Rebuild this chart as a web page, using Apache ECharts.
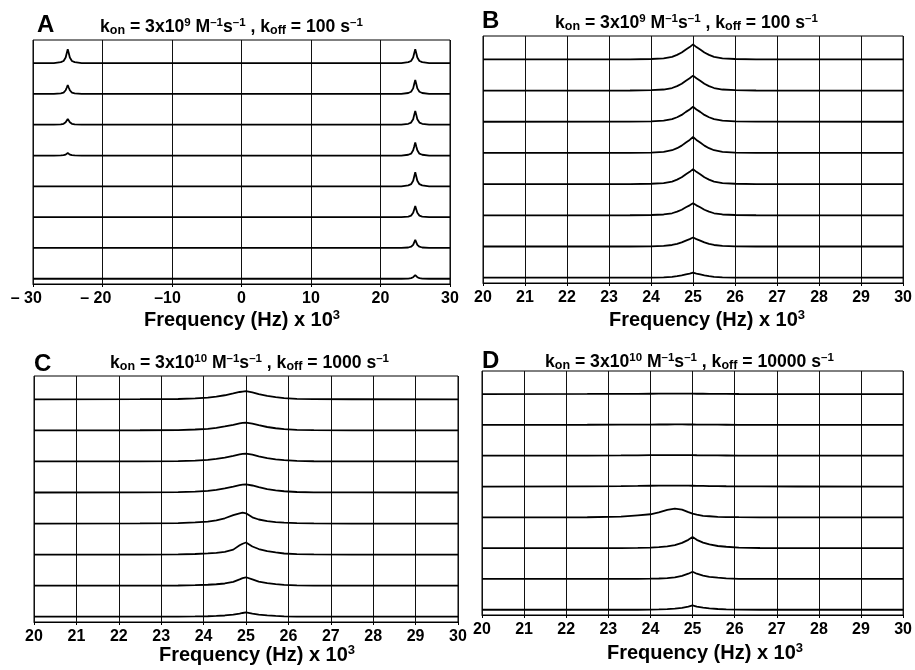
<!DOCTYPE html>
<html>
<head>
<meta charset="utf-8">
<script src="https://cdn.jsdelivr.net/npm/echarts@6/dist/echarts.min.js"></script>
<style>html,body{margin:0;padding:0;background:#fff}#c{width:915px;height:670px}</style>
</head>
<body>
<div id="c"></div>
<script>
// ---------------- DATA ----------------
// trace baselines (stack offsets), top trace first
var offsets = [7.17, 6.17, 5.17, 4.17, 3.17, 2.17, 1.17, 0.17];

// Panel A : frequency samples (kHz) and intensities of the 8 stacked traces
var xA = [-30, -27, -26, -25.6, -25.3, -25.15, -25, -24.85, -24.7, -24.4, -24, -23, 23, 24, 24.4, 24.7, 24.85, 25, 25.15, 25.3, 25.6, 26, 27, 30];
var a0 = [0, 0, .03, .07, .18, .32, .45, .32, .18, .07, .03, 0, 0, .03, .07, .18, .32, .45, .32, .18, .07, .03, 0, 0];
var a1 = [0, 0, .02, .04, .12, .2, .29, .2, .12, .04, .02, 0, 0, .03, .07, .18, .32, .45, .32, .18, .07, .03, 0, 0];
var a2 = [0, 0, .01, .03, .08, .13, .19, .13, .08, .03, .01, 0, 0, .03, .07, .18, .32, .45, .32, .18, .07, .03, 0, 0];
var a3 = [0, 0, .005, .01, .03, .06, .08, .06, .03, .01, .005, 0, 0, .025, .06, .17, .29, .42, .29, .17, .06, .025, 0, 0];
var a4 = [0, 0, 0, 0, 0, 0, 0, 0, 0, 0, 0, 0, 0, .03, .07, .18, .32, .46, .32, .18, .07, .03, 0, 0];
var a5 = [0, 0, 0, 0, 0, 0, 0, 0, 0, 0, 0, 0, 0, .02, .05, .14, .25, .36, .25, .14, .05, .02, 0, 0];
var a6 = [0, 0, 0, 0, 0, 0, 0, 0, 0, 0, 0, 0, 0, .015, .04, .1, .18, .26, .18, .1, .04, .015, 0, 0];
var a7 = [0, 0, 0, 0, 0, 0, 0, 0, 0, 0, 0, 0, 0, .007, .02, .05, .08, .12, .08, .05, .02, .007, 0, 0];

// Panel B
var xB = [20, 23.5, 24, 24.3, 24.5, 24.62, 24.73, 24.83, 24.92, 25, 25.08, 25.17, 25.27, 25.38, 25.5, 25.7, 26, 26.5, 30];
var b0 = [0, .002, .012, .034, .082, .144, .22, .317, .394, .48, .394, .317, .22, .144, .082, .034, .012, .002, 0];
var b1 = [0, .002, .012, .034, .082, .144, .22, .317, .394, .48, .394, .317, .22, .144, .082, .034, .012, .002, 0];
var b2 = [0, .002, .012, .034, .082, .144, .22, .317, .394, .48, .394, .317, .22, .144, .082, .034, .012, .002, 0];
var b3 = [0, .002, .013, .036, .087, .153, .235, .337, .418, .51, .418, .337, .235, .153, .087, .036, .013, .002, 0];
var b4 = [0, .002, .012, .034, .082, .144, .22, .317, .394, .48, .394, .317, .22, .144, .082, .034, .012, .002, 0];
var b5 = [0, .002, .01, .027, .066, .117, .18, .257, .32, .39, .32, .257, .18, .117, .066, .027, .01, .002, 0];
var b6 = [0, .001, .007, .02, .049, .087, .133, .191, .238, .29, .238, .191, .133, .087, .049, .02, .007, .001, 0];
var b7 = [0, .001, .004, .011, .027, .048, .074, .106, .131, .16, .131, .106, .074, .048, .027, .011, .004, .001, 0];

// Panel C
var xC = [20, 22.5, 23.4, 23.8, 24.1, 24.3, 24.5, 24.7, 24.85, 24.92, 25, 25.15, 25.3, 25.5, 25.7, 25.9, 26.2, 26.6, 27.5, 30];
var c0 = [0, .003, .01, .028, .052, .083, .13, .187, .235, .25, .26, .225, .17, .11, .07, .04, .015, .005, .002, 0];
var c1 = [0, .003, .01, .027, .05, .08, .125, .18, .228, .243, .252, .22, .165, .108, .068, .04, .015, .005, .002, 0];
var c2 = [0, .003, .01, .027, .05, .08, .125, .18, .228, .243, .252, .22, .165, .108, .068, .04, .015, .005, .002, 0];
var c3 = [0, .003, .01, .028, .052, .083, .13, .187, .235, .25, .26, .225, .17, .11, .07, .04, .015, .005, .002, 0];
var c4 = [0, .003, .015, .035, .06, .1, .17, .27, .33, .35, .33, .2, .13, .075, .045, .03, .012, .004, 0, 0];
var c5 = [0, 0, .008, .02, .04, .055, .09, .16, .3, .35, .39, .26, .18, .11, .07, .035, .015, .005, 0, 0];
var c6 = [0, 0, .005, .015, .03, .045, .07, .12, .2, .24, .27, .2, .13, .08, .05, .025, .01, .003, 0, 0];
var c7 = [0, 0, 0, .008, .015, .025, .04, .065, .1, .12, .14, .1, .07, .045, .025, .012, .005, 0, 0, 0];

// Panel D
var xD = [20, 22.5, 23.3, 23.7, 24.0, 24.2, 24.4, 24.58, 24.75, 24.9, 25, 25.1, 25.25, 25.4, 25.6, 25.8, 26.1, 26.6, 27.5, 30];
var d0 = [0, .005, .008, .01, .012, .013, .014, .015, .015, .014, .013, .012, .011, .01, .008, .006, .004, .002, 0, 0];
var d1 = [0, .005, .008, .01, .012, .013, .014, .015, .015, .014, .013, .012, .011, .01, .008, .006, .004, .002, 0, 0];
var d2 = [0, .006, .01, .014, .017, .019, .02, .02, .02, .019, .018, .016, .014, .012, .01, .008, .005, .003, .001, 0];
var d3 = [0, .008, .014, .02, .025, .028, .03, .03, .029, .027, .025, .022, .019, .016, .012, .009, .006, .003, .001, 0];
var d4 = [0, .003, .02, .065, .1, .16, .24, .28, .25, .17, .12, .09, .05, .035, .015, .008, .004, 0, 0, 0];
var d5 = [0, 0, .003, .01, .02, .035, .06, .1, .17, .27, .36, .27, .18, .12, .07, .045, .015, .004, 0, 0];
var d6 = [0, 0, 0, .003, .008, .015, .03, .05, .1, .17, .235, .17, .11, .07, .04, .02, .005, 0, 0, 0];
var d7 = [0, 0, 0, 0, .005, .01, .02, .035, .06, .1, .14, .1, .07, .045, .025, .012, .004, 0, 0, 0];

// tick labels
var ticksA = ['– 30', '– 20', '–10', '0', '10', '20', '30'];
var ticksB = ['20', '21', '22', '23', '24', '25', '26', '27', '28', '29', '30'];

// panel texts
var letters = ['A', 'B', 'C', 'D'];
var titles = [
  '{m|k}{sub|on}{m| = 3x10}{sup|9}{m| M}{sup|–1}{m|s}{sup|–1}{m| , k}{sub|off}{m| = 100 s}{sup|–1}',
  '{m|k}{sub|on}{m| = 3x10}{sup|9}{m| M}{sup|–1}{m|s}{sup|–1}{m| , k}{sub|off}{m| = 100 s}{sup|–1}',
  '{m|k}{sub|on}{m| = 3x10}{sup|10}{m| M}{sup|–1}{m|s}{sup|–1}{m| , k}{sub|off}{m| = 1000 s}{sup|–1}',
  '{m|k}{sub|on}{m| = 3x10}{sup|10}{m| M}{sup|–1}{m|s}{sup|–1}{m| , k}{sub|off}{m| = 10000 s}{sup|–1}'
];
var axisName = '{m|Frequency (Hz) x 10}{sup|3}';

// ---------------- CHART ----------------
var FONT = '"Liberation Sans", Arial, sans-serif';
var panels = [
  {x: xA, t: [a0, a1, a2, a3, a4, a5, a6, a7], min: -30, max: 30, interval: 10, ticks: ticksA,
   grid: {left: 33, width: 417, top: 40, height: 244}},
  {x: xB, t: [b0, b1, b2, b3, b4, b5, b6, b7], min: 20, max: 30, interval: 1, ticks: ticksB,
   grid: {left: 483, width: 425, top: 36, height: 247}},
  {x: xC, t: [c0, c1, c2, c3, c4, c5, c6, c7], min: 20, max: 30, interval: 1, ticks: ticksB,
   grid: {left: 34, width: 424, top: 376, height: 246}},
  {x: xD, t: [d0, d1, d2, d3, d4, d5, d6, d7], min: 20, max: 30, interval: 1, ticks: ticksB,
   grid: {left: 482, width: 422, top: 371, height: 244}}
];
var letterPos = [[37, 13], [482, 9], [34, 352], [482, 349]];
var titlePos = [[100, 17], [555, 13], [110, 353], [545, 352]];
var namePos = [[242, 309], [707, 309], [257, 644], [705, 642]];

var grids = [], xAxes = [], yAxes = [], series = [], titleArr = [];
var richT = {
  m: {fontSize: 17.6, fontWeight: 'bold', fontFamily: FONT, color: '#000', lineHeight: 20},
  sup: {fontSize: 11.5, fontWeight: 'bold', fontFamily: FONT, color: '#000', lineHeight: 11, verticalAlign: 'top'},
  sub: {fontSize: 12.5, fontWeight: 'bold', fontFamily: FONT, color: '#000', lineHeight: 12, verticalAlign: 'bottom'}
};
var richN = {
  m: {fontSize: 20, fontWeight: 'bold', fontFamily: FONT, color: '#000', lineHeight: 23},
  sup: {fontSize: 13, fontWeight: 'bold', fontFamily: FONT, color: '#000', lineHeight: 13, verticalAlign: 'top'}
};

panels.forEach(function (p, pi) {
  grids.push(Object.assign({show: true, borderColor: '#000', borderWidth: 1, backgroundColor: '#fff'}, p.grid));
  xAxes.push({
    type: 'value', gridIndex: pi, min: p.min, max: p.max, interval: p.interval,
    axisLine: {show: true, onZero: false, lineStyle: {color: '#000', width: 1}},
    axisTick: {show: true, length: 3, lineStyle: {color: '#000'}},
    splitLine: {show: true, lineStyle: {color: '#111', width: 1}},
    axisLabel: {
      margin: 7, color: '#000', fontSize: 16, fontWeight: 'bold', fontFamily: FONT,
      formatter: function (v) {
        var s = p.ticks[Math.round((v - p.min) / p.interval)];
        if (s && s.charAt(0) === '–') s = s + (s.indexOf(' ') > 0 ? '\u00a0\u00a0\u00a0' : '\u00a0\u00a0');
        return s;
      }
    }
  });
  yAxes.push({type: 'value', gridIndex: pi, min: 0, max: 7.92, show: false});
  p.t.forEach(function (vals, k) {
    series.push({
      type: 'line', xAxisIndex: pi, yAxisIndex: pi, symbol: 'none', silent: true,
      lineStyle: {color: '#000', width: 1.8},
      data: p.x.map(function (x, i) { return [x, offsets[k] + vals[i]]; })
    });
  });
  titleArr.push({text: letters[pi], left: letterPos[pi][0], top: letterPos[pi][1], padding: 0,
    textStyle: {fontSize: 24, fontWeight: 'bold', fontFamily: FONT, color: '#000'}});
  titleArr.push({text: titles[pi], left: titlePos[pi][0], top: titlePos[pi][1], padding: 0,
    textStyle: {rich: richT}});
  titleArr.push({text: axisName, left: namePos[pi][0], top: namePos[pi][1], padding: 0, textAlign: 'center',
    textStyle: {rich: richN}});
});

var chart = echarts.init(document.getElementById('c'), null, {renderer: 'canvas'});
chart.setOption({
  animation: false,
  backgroundColor: '#fff',
  title: titleArr,
  grid: grids,
  xAxis: xAxes,
  yAxis: yAxes,
  series: series
});
</script>
</body>
</html>
